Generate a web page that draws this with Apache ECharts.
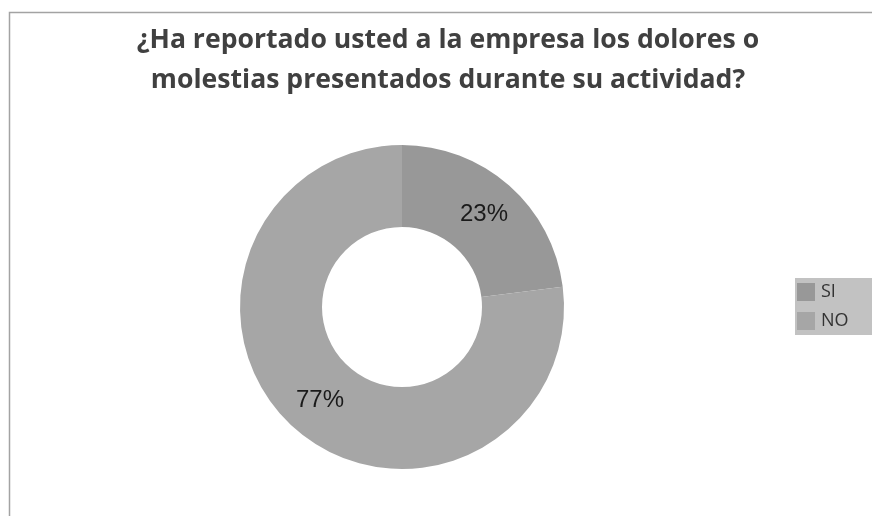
<!DOCTYPE html>
<html>
<head>
<meta charset="utf-8">
<script src="https://cdn.jsdelivr.net/npm/echarts@6/dist/echarts.min.js"></script>
<style>
  html, body { margin: 0; padding: 0; background: #ffffff; }
  #chart { width: 872px; height: 516px; }
</style>
</head>
<body>
<div id="chart"></div>
<script>
// Answers to the survey question, in percent
const categories = ['SI', 'NO'];
const shares = [23, 77];
const sliceColors = ['#989898', '#a6a6a6'];

const chart = echarts.init(document.getElementById('chart'), null, { renderer: 'canvas' });

chart.setOption({
  animation: false,
  backgroundColor: '#ffffff',
  title: {
    text: '¿Ha reportado usted a la empresa los dolores o\nmolestias presentados durante su actividad?',
    left: 443,
    textAlign: 'center',
    top: 15,
    textStyle: {
      fontFamily: 'Open Sans',
      fontWeight: 'bold',
      fontSize: 26.6,
      lineHeight: 40,
      color: '#404040'
    }
  },
  graphic: [{
    type: 'rect',
    shape: { x: 9.5, y: 12.5, width: 900, height: 600 },
    style: { fill: 'none', stroke: '#a3a3a3', lineWidth: 1.5 },
    silent: true,
    z: -1
  }],
  legend: {
    orient: 'vertical',
    left: 795,
    top: 278,
    padding: [5, 40, 5, 2],
    backgroundColor: '#c2c2c2',
    icon: 'rect',
    itemWidth: 18,
    itemHeight: 18,
    itemGap: 11,
    selectedMode: false,
    textStyle: {
      fontFamily: 'Open Sans',
      fontSize: 18,
      color: '#333333',
      padding: [0, 0, 0, 1]
    },
    data: categories
  },
  series: [{
    type: 'pie',
    center: [402, 307],
    radius: [80, 162],
    startAngle: 90,
    clockwise: true,
    silent: true,
    avoidLabelOverlap: false,
    itemStyle: { borderWidth: 0 },
    label: {
      show: true,
      position: 'inside',
      formatter: '{d}%',
      fontFamily: 'Liberation Sans',
      fontSize: 24,
      color: '#1a1a1a'
    },
    labelLine: { show: false },
    data: categories.map((name, i) => ({
      name: name,
      value: shares[i],
      itemStyle: { color: sliceColors[i] }
    }))
  }]
});
</script>
</body>
</html>
